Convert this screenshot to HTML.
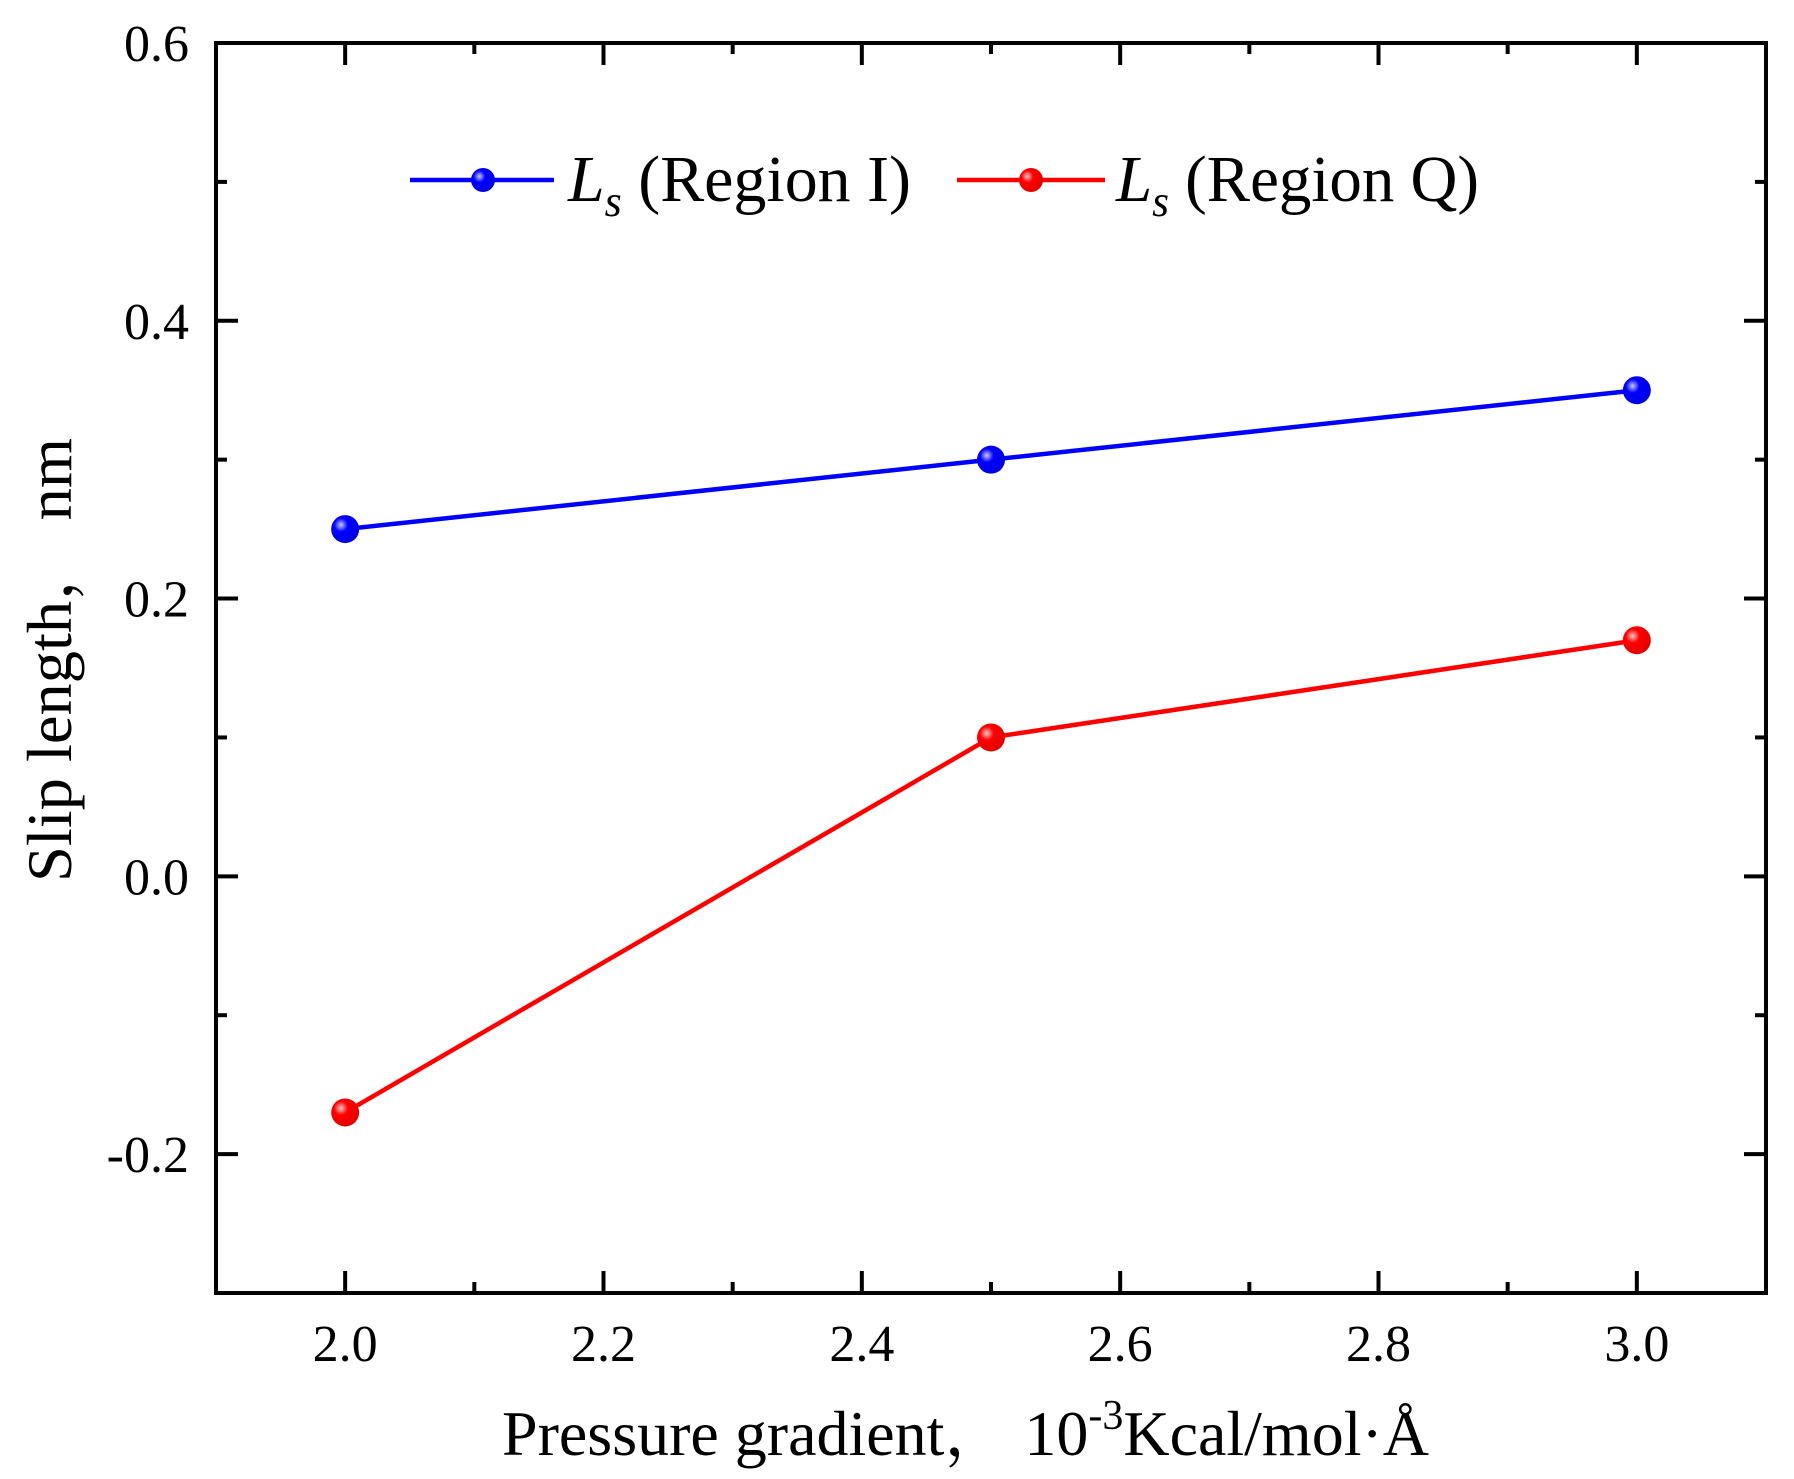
<!DOCTYPE html>
<html><head><meta charset="utf-8"><style>
html,body{margin:0;padding:0;background:#fff;}
svg{display:block;}
text{font-family:"Liberation Serif","Noto Serif CJK SC",serif;fill:#000;}
</style></head><body>
<svg id="chart" width="1794" height="1479" viewBox="0 0 1794 1479" xmlns="http://www.w3.org/2000/svg">
<defs>
<radialGradient id="gb" cx="0.35" cy="0.35" r="0.7"><stop offset="0" stop-color="#c8c8ff"/><stop offset="0.35" stop-color="#0000ff"/><stop offset="1" stop-color="#0000e0"/></radialGradient>
<radialGradient id="gr" cx="0.35" cy="0.35" r="0.7"><stop offset="0" stop-color="#ffc8c8"/><stop offset="0.35" stop-color="#ff0000"/><stop offset="1" stop-color="#e00000"/></radialGradient>
</defs>
<g id="axes"></g>
<g id="series"></g>
<g>
  <line x1="410" y1="180" x2="554" y2="180" stroke="#0000ff" stroke-width="4.5"/>
  <circle cx="483" cy="180" r="12" fill="url(#gb)"/>
  <text x="568" y="201" font-size="66" textLength="343" lengthAdjust="spacingAndGlyphs"><tspan font-style="italic">L</tspan><tspan font-style="italic" font-size="44" dy="15">s</tspan><tspan dy="-15"> (Region I)</tspan></text>
  <line x1="957" y1="180" x2="1105" y2="180" stroke="#ff0000" stroke-width="4.5"/>
  <circle cx="1031" cy="180" r="12" fill="url(#gr)"/>
  <text x="1116" y="201" font-size="66" textLength="363" lengthAdjust="spacingAndGlyphs"><tspan font-style="italic">L</tspan><tspan font-style="italic" font-size="44" dy="15">s</tspan><tspan dy="-15"> (Region Q)</tspan></text>
</g>
<text x="502" y="1455" font-size="64" textLength="927" lengthAdjust="spacingAndGlyphs">Pressure gradient，  10<tspan font-size="42" dy="-26">-3</tspan><tspan dy="26">Kcal/mol·Å</tspan></text>
<text transform="translate(71,882) rotate(-90)" x="0" y="0" font-size="64" textLength="444" lengthAdjust="spacingAndGlyphs">Slip length，  nm</text>
</svg>
<script>
const xCategories = [2.0, 2.5, 3.0];
const regionIValues = [0.25, 0.30, 0.35];
const regionQValues = [-0.17, 0.10, 0.17];
const xTickLabels = ["2.0","2.2","2.4","2.6","2.8","3.0"];
const yTickLabels = ["-0.2","0.0","0.2","0.4","0.6"];

const L=216,R=1766,T=43,B=1293;
const X0=1.9,X1=3.1,Y0=-0.3,Y1=0.6;
function xs(v){return L+(v-X0)/(X1-X0)*(R-L);}
function ys(v){return B-(v-Y0)/(Y1-Y0)*(B-T);}
const NS="http://www.w3.org/2000/svg";
function mk(tag,attrs,parent){const e=document.createElementNS(NS,tag);for(const k in attrs)e.setAttribute(k,attrs[k]);parent.appendChild(e);return e;}
const axes=document.getElementById('axes');
const frame=mk('rect',{x:L,y:T,width:R-L,height:B-T,fill:'none',stroke:'#000','stroke-width':4},axes);


for(let i=0;i<=12;i++){
  const v=1.9+i*0.1; const major=(i%2===1); const len=major?22:11; const x=xs(v);
  const t1=mk('line',{x1:x,y1:B,x2:x,y2:B-len,stroke:'#000','stroke-width':4},axes);
  
  
  const t2=mk('line',{x1:x,y1:T,x2:x,y2:T+len,stroke:'#000','stroke-width':4},axes);
  
  
}
xTickLabels.forEach(s=>{
  const t=mk('text',{x:xs(parseFloat(s)),y:1361,'font-size':52,'text-anchor':'middle'},axes);
  t.textContent=s;
  
  
});
for(let i=0;i<=9;i++){
  const v=-0.3+i*0.1; const major=(i%2===1); const len=major?22:11; const y=ys(v);
  const t1=mk('line',{x1:L,y1:y,x2:L+len,y2:y,stroke:'#000','stroke-width':4},axes);
  
  
  const t2=mk('line',{x1:R,y1:y,x2:R-len,y2:y,stroke:'#000','stroke-width':4},axes);
  
  
}
yTickLabels.forEach(s=>{
  const t=mk('text',{x:189,y:ys(parseFloat(s))+18,'font-size':52,'text-anchor':'end'},axes);
  t.textContent=s;
  
  
});
const series=document.getElementById('series');
function drawSeries(vals,color,grad,name){
  const pts=xCategories.map((c,i)=>xs(c)+','+ys(vals[i])).join(' ');
  const pl=mk('polyline',{points:pts,fill:'none',stroke:color,'stroke-width':4.5},series);
  
  
  xCategories.forEach((c,i)=>{
    const m=mk('circle',{cx:xs(c),cy:ys(vals[i]),r:14,fill:'url(#'+grad+')'},series);
    
    
  });
}
drawSeries(regionIValues,'#0000ff','gb','region-i');
drawSeries(regionQValues,'#ff0000','gr','region-q');
</script>
</body></html>
